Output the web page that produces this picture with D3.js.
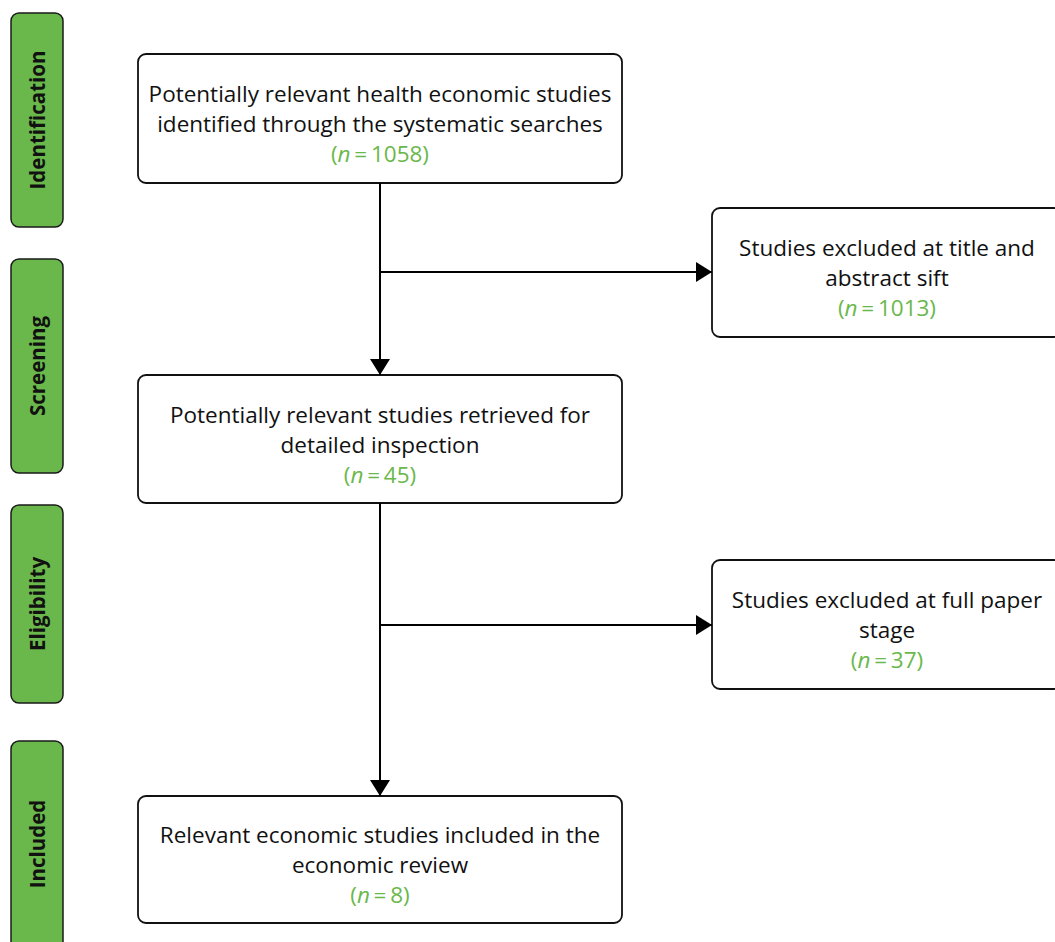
<!DOCTYPE html>
<html><head><meta charset="utf-8">
<script src="https://cdn.jsdelivr.net/npm/d3@7"></script>
<style>body{margin:0;background:#fff}svg{display:block}</style>
</head><body>
<script>
// Data
const stages = ["Identification","Screening","Eligibility","Included"];
const stageRanges = [[13,227],[259,473],[505,703],[741,960]];
const mainTexts = [
  ["Potentially relevant health economic studies","identified through the systematic searches"],
  ["Potentially relevant studies retrieved for","detailed inspection"],
  ["Relevant economic studies included in the","economic review"]
];
const mainCounts = [1058, 45, 8];
const exclTexts = [
  ["Studies excluded at title and","abstract sift"],
  ["Studies excluded at full paper","stage"]
];
const exclCounts = [1013, 37];

const W = 1055, H = 942;
const green = "#6ab84b";
const svg = d3.select("body").append("svg").attr("width",W).attr("height",H);
const defs = svg.append("defs");
defs.append("marker").attr("id","arr").attr("viewBox","0 0 16 20").attr("refX",16).attr("refY",10)
  .attr("markerWidth",16).attr("markerHeight",20).attr("markerUnits","userSpaceOnUse")
  .attr("orient","auto").append("path").attr("d","M0,0L16,10L0,20Z").attr("fill","#000");

const font = "'Open Sans', 'Noto Sans', sans-serif";

// Stage labels
stages.forEach((s,i)=>{
  const [y0,y1] = stageRanges[i];
  svg.append("rect").attr("x",11).attr("y",y0).attr("width",52).attr("height",y1-y0)
    .attr("rx",8).attr("fill",green).attr("stroke","#1a1a1a").attr("stroke-width",1.5);
  const cyy = i===3 ? y0+103 : (y0+y1)/2;
  svg.append("text").attr("transform",`translate(37,${cyy}) rotate(-90)`)
    .attr("text-anchor","middle").attr("dominant-baseline","central")
    .attr("font-family",font).attr("font-weight","bold").attr("font-size",20.5)
    .attr("fill","#111").text(s);
});

const mainBoxes = [[54,183],[375,503],[796,923]];
const exclBoxes = [[208,337],[560,689]];
const mx0 = 138, mx1 = 622, ex0 = 712, ex1 = 1062;
const spineX = 380;

function box(x0,x1,y0,y1,lines,count){
  svg.append("rect").attr("x",x0).attr("y",y0).attr("width",x1-x0).attr("height",y1-y0)
    .attr("rx",8).attr("fill","#fff").attr("stroke","#111").attr("stroke-width",1.8);
  const tx = (x0+x1)/2;
  const n = lines.length+1, lh = 30;
  const cy = (y0+y1)/2 + 6;
  const top = cy - (n-1)*lh/2;
  const t = svg.append("text").attr("font-family",font).attr("font-size",22.5).attr("fill","#111")
    .attr("text-anchor","middle");
  lines.forEach((l,i)=>{
    t.append("tspan").attr("x",tx).attr("y",top+i*lh).attr("dy","0.35em").text(l);
  });
  const c = t.append("tspan").attr("x",tx).attr("y",top+lines.length*lh).attr("dy","0.35em").attr("fill",green);
  c.append("tspan").text("(");
  c.append("tspan").attr("font-style","italic").text("n");
  c.append("tspan").text("\u2009=\u2009"+count+")");
}

mainBoxes.forEach((b,i)=>box(mx0,mx1,b[0],b[1],mainTexts[i],mainCounts[i]));
exclBoxes.forEach((b,i)=>box(ex0,ex1,b[0],b[1],exclTexts[i],exclCounts[i]));

// connectors
const line = (x1,y1,x2,y2,arrow)=>{
  const l = svg.append("line").attr("x1",x1).attr("y1",y1).attr("x2",x2).attr("y2",y2)
    .attr("stroke","#000").attr("stroke-width",2);
  if(arrow) l.attr("marker-end","url(#arr)");
};
line(spineX,183,spineX,375,true);
line(spineX,272,ex0,272,true);
line(spineX,503,spineX,796,true);
line(spineX,625,ex0,625,true);
</script>
</body></html>
